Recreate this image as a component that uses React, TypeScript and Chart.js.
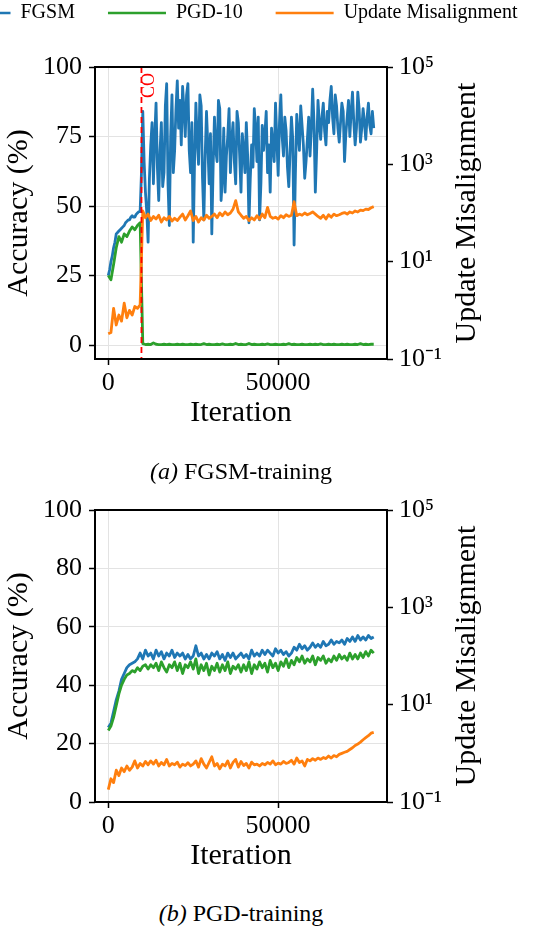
import React, { useEffect, useRef } from 'react';
import { Chart, registerables } from 'chart.js';

Chart.register(...registerables);

const SERIF = '"Liberation Serif", "Times New Roman", Times, serif';
const BLUE = '#1f77b4';
const ORANGE = '#ff7f0e';
const GREEN = '#2ca02c';
const GRID = '#e3e3e3';

// iterations between logged values (391 iterations per epoch)
const STEP_FINE = 391;
const STEP = 782;
const CO_ITERATION = 9775;
const X_MIN = -3910;
const X_MAX = 82110;

const seriesNames = ['FGSM', 'PGD-10', 'Update Misalignment'];
const seriesColors = [BLUE, GREEN, ORANGE];

// (a) FGSM-training — FGSM accuracy logged every epoch
const fgsmAccA = [
  25, 27, 30, 32, 35, 37, 40, 40.5, 41, 41.5,
  42, 42.5, 43, 44, 44.5, 45, 45, 46, 46.5, 46,
  46, 47, 47.5, 48, 48, 62, 84, 66, 55, 48,
  37, 60, 72, 80, 58, 75, 87, 64, 52, 70,
  80, 57, 62, 86, 94, 58, 43, 75, 90, 62,
  70, 85, 95, 78, 88, 72, 93, 85, 75, 90,
  94, 70, 62, 80, 37, 66, 87, 74, 65, 90,
  86, 60, 45, 68, 84, 72, 58, 76, 40, 64,
  82, 70, 66, 88, 85, 52, 60, 78, 55, 68,
  75, 85, 62, 74, 80, 66, 58, 84, 80, 68,
  55, 76, 70, 62, 80, 68, 44, 60, 72, 64,
  85, 78, 66, 82, 45, 58, 79, 70, 76, 84,
  62, 72, 55, 78, 72, 66, 87, 74, 61, 80,
  90, 75, 68, 82, 77, 64, 57, 70, 82, 74,
  36, 62, 83, 76, 70, 86, 79, 72, 60, 66,
  74, 82, 68, 78, 92, 80, 55, 70, 88, 80,
  74, 82, 87, 77, 72, 84, 80, 88, 93, 82,
  76, 90, 86, 78, 73, 80, 87, 84, 66, 76,
  82, 88, 75, 84, 91, 80, 72, 78, 91, 85,
  73, 78, 85, 80, 74, 82, 87, 79, 76, 84,
  78,
];
// logged every 2 epochs
const pgdAccA = [
  25, 23.5, 29, 35, 39, 37, 40, 39, 41, 42.5,
  41.5, 43, 44, 0.5, 0.2, 0.3, 0.2, 0.8, 0.3, 0.2,
  0.2, 0.3, 0.2, 0.3, 0.2, 0.2, 0.3, 0.2, 0.3, 0.2,
  0.2, 0.3, 0.2, 0.3, 0.2, 0.2, 0.5, 0.2, 0.3, 0.2,
  0.2, 0.3, 0.2, 0.4, 0.2, 0.2, 0.3, 0.2, 0.6, 0.2,
  0.3, 0.2, 0.2, 0.6, 0.2, 0.3, 0.2, 0.2, 0.3, 0.2,
  0.4, 0.2, 0.2, 0.3, 0.2, 0.2, 0.3, 0.2, 0.5, 0.2,
  0.3, 0.2, 0.2, 0.3, 0.2, 0.2, 0.3, 0.2, 0.3, 0.2,
  0.4, 0.2, 0.2, 0.3, 0.2, 0.3, 0.2, 0.2, 0.3, 0.2,
  0.3, 0.2, 0.2, 0.3, 0.2, 0.5, 0.2, 0.3, 0.2, 0.3,
  0.3,
];
const misalignA = [
  0.33, 0.35, 1.1, 0.5, 0.8, 0.6, 1.4, 0.7, 1.0, 0.8,
  1.2, 1.1, 1.3, 110, 80, 95, 70, 85, 75, 90,
  65, 80, 72, 85, 68, 78, 70, 82, 95, 72,
  88, 110, 70, 85, 65, 80, 72, 90, 78, 85,
  95, 80, 100, 88, 105, 92, 100, 120, 180, 105,
  90, 78, 85, 70, 80, 72, 88, 75, 95, 80,
  130, 85, 78, 82, 75, 88, 80, 92, 85, 90,
  170, 88, 95, 90, 100, 92, 98, 105, 95, 85,
  78, 90, 75, 92, 82, 95, 88, 92, 98, 102,
  95, 105, 100, 110, 105, 115, 112, 120, 118, 128,
  135,
];

// (b) PGD-training — logged every 2 epochs
const fgsmAccB = [
  25.5, 27, 31, 35, 38, 42, 44, 46, 47, 47.5,
  48, 49, 51, 49, 52, 50, 51, 49, 52, 50,
  51.5, 49, 51, 50, 52, 49.5, 51, 50, 51, 49,
  50.5, 49, 50, 53.5, 50, 51, 49, 50.5, 49, 51,
  50, 51.5, 49, 50.5, 48.5, 51, 49.5, 51, 49, 50,
  51, 49.5, 50.5, 49, 52, 50, 51, 50, 52, 50.5,
  52, 51, 50, 52.5, 51, 52, 50.5, 51.5, 50, 51,
  53, 52, 54, 52.5, 53.5, 52, 53, 54.5, 53, 54,
  53, 55, 53.5, 54, 55.5, 54, 55, 54.5, 55.5, 54,
  56, 55, 56.5, 55, 57, 55.5, 56.5, 55.5, 57, 56,
  56.5,
];
const pgdAccB = [
  24.5, 26, 29, 33, 37, 40, 42, 43.5, 44, 45,
  44.5, 46, 45, 46.5, 47, 45.5, 47, 46, 47.5, 45,
  48, 46, 44.5, 47, 46, 48, 45, 47.5, 44, 47,
  46, 48, 45.5, 49, 44, 47, 45, 47.5, 43.5, 46.5,
  45, 47.5, 44.5, 47, 45, 48, 44, 46.5, 45.5, 47,
  44.5, 47, 45, 48, 44, 47, 45.5, 48, 46, 47.5,
  44.5, 48.5, 46, 47.5, 45, 48, 46.5, 49, 46, 48.5,
  47, 49.5, 48, 50, 47.5, 49, 48, 50, 47, 49.5,
  48.5, 50, 47.5, 49, 48, 50, 48.5, 50.5, 49, 50,
  48.5, 51, 49, 50.5, 49, 51, 49.5, 51.5, 50, 52,
  51,
];
const misalignB = [
  0.18, 0.3, 0.25, 0.45, 0.35, 0.5, 0.42, 0.55, 0.45, 0.52,
  0.7, 0.5, 0.62, 0.55, 0.68, 0.58, 0.7, 0.6, 0.72, 0.55,
  0.65, 0.58, 0.75, 0.55, 0.62, 0.58, 0.66, 0.52, 0.6, 0.56,
  0.64, 0.55, 0.6, 0.7, 0.52, 0.78, 0.6, 0.5, 0.65, 0.85,
  0.55, 0.62, 0.48, 0.6, 0.55, 0.7, 0.5, 0.65, 0.75, 0.52,
  0.68, 0.56, 0.62, 0.5, 0.66, 0.58, 0.6, 0.55, 0.62, 0.58,
  0.65, 0.6, 0.7, 0.58, 0.63, 0.6, 0.68, 0.62, 0.65, 0.72,
  0.6, 0.8, 0.65, 0.7, 0.55, 0.75, 0.7, 0.78, 0.72, 0.8,
  0.75, 0.82, 0.78, 0.88, 0.8, 0.9, 0.85, 0.95, 1.0, 1.05,
  1.1, 1.2, 1.3, 1.45, 1.55, 1.7, 1.9, 2.1, 2.3, 2.6,
  2.7,
];

const xTickValues = [0, 50000];
const accTicksA = [0, 25, 50, 75, 100];
const accTicksB = [0, 20, 40, 60, 80, 100];
const misTickValues = [0.1, 10, 1000, 100000];
const misTickLabels = ['10⁻¹', '10¹', '10³', '10⁵'];

function toPoints(values: number[], step: number) {
  return values.map((v, i) => ({ x: i * step, y: v }));
}

const fixTicks = (values: number[]) => (scale: any) => {
  scale.ticks = values.map((v) => ({ value: v }));
};

const decorPlugin = {
  id: 'decor',
  afterDatasetsDraw(chart: any, _args: any, opts: any) {
    const { ctx, chartArea: a, scales } = chart;
    if (opts.coIteration != null) {
      const x = scales.x.getPixelForValue(opts.coIteration);
      ctx.save();
      ctx.strokeStyle = '#ff0000';
      ctx.lineWidth = 1.8;
      ctx.setLineDash([6, 4]);
      ctx.beginPath();
      ctx.moveTo(x, a.top);
      ctx.lineTo(x, a.bottom);
      ctx.stroke();
      ctx.setLineDash([]);
      ctx.fillStyle = '#ff0000';
      ctx.font = `18px ${SERIF}`;
      ctx.translate(x + 8, a.top + 6);
      ctx.rotate(-Math.PI / 2);
      ctx.textAlign = 'right';
      ctx.textBaseline = 'middle';
      ctx.fillText(opts.coLabel, 0, 0);
      ctx.restore();
    }
    ctx.save();
    ctx.strokeStyle = '#000';
    ctx.lineWidth = 2;
    ctx.strokeRect(a.left, a.top, a.right - a.left, a.bottom - a.top);
    ctx.restore();

    const s = scales.y1;
    ctx.save();
    ctx.fillStyle = '#000';
    ctx.font = `30px ${SERIF}`;
    ctx.translate(s.right - 72, (a.top + a.bottom) / 2);
    ctx.rotate(-Math.PI / 2);
    ctx.textAlign = 'center';
    ctx.textBaseline = 'middle';
    ctx.fillText(opts.rightTitle, 0, 0);
    ctx.restore();
  },
};

function makeConfig(
  fgsm: number[],
  fgsmStep: number,
  pgd: number[],
  mis: number[],
  accMin: number,
  accTicks: number[],
  coIteration: number | null
): any {
  const tickFont = { family: SERIF, size: 26 };
  const titleFont = { family: SERIF, size: 30 };
  const common = {
    borderWidth: 2.8,
    pointRadius: 0,
    tension: 0,
    fill: false,
    borderJoinStyle: 'round',
  };
  return {
    type: 'line',
    data: {
      datasets: [
        { ...common, label: seriesNames[2], data: toPoints(mis, STEP), yAxisID: 'y1', borderColor: ORANGE, backgroundColor: ORANGE, order: 1 },
        { ...common, label: seriesNames[1], data: toPoints(pgd, STEP), yAxisID: 'y', borderColor: GREEN, backgroundColor: GREEN, order: 2 },
        { ...common, label: seriesNames[0], data: toPoints(fgsm, fgsmStep), yAxisID: 'y', borderColor: BLUE, backgroundColor: BLUE, order: 3 },
      ],
    },
    options: {
      responsive: false,
      animation: false,
      events: [],
      layout: { padding: { top: 67, left: 0, right: 0, bottom: 0 } },
      plugins: {
        legend: { display: false },
        tooltip: { enabled: false },
        decor: { coIteration, coLabel: 'CO', rightTitle: 'Update Misalignment' },
      },
      scales: {
        x: {
          type: 'linear',
          min: X_MIN,
          max: X_MAX,
          afterBuildTicks: fixTicks(xTickValues),
          afterFit: (s: any) => { s.height = 81; },
          ticks: { font: tickFont, color: '#000', padding: 3, maxRotation: 0, autoSkip: false, callback: (v: any) => String(v) },
          grid: { color: GRID, lineWidth: 1, tickColor: '#000', tickWidth: 1.5, tickLength: 6, drawTicks: true },
          border: { display: false },
          title: { display: true, text: 'Iteration', font: titleFont, color: '#000', padding: { top: 0, bottom: 9 } },
        },
        y: {
          type: 'linear',
          position: 'left',
          min: accMin,
          max: 100,
          afterBuildTicks: fixTicks(accTicks),
          afterFit: (s: any) => { s.width = 95; },
          ticks: { font: tickFont, color: '#000', padding: 7, autoSkip: false, callback: (v: any) => String(v) },
          grid: { color: GRID, lineWidth: 1, tickColor: '#000', tickWidth: 1.5, tickLength: 6, drawTicks: true },
          border: { display: false },
          title: { display: true, text: 'Accuracy (%)', font: titleFont, color: '#000', padding: { top: 1, bottom: 0 } },
        },
        y1: {
          type: 'logarithmic',
          position: 'right',
          min: 0.1,
          max: 100000,
          afterBuildTicks: fixTicks(misTickValues),
          afterFit: (s: any) => { s.width = 152; },
          ticks: {
            font: tickFont,
            color: '#000',
            padding: 6,
            autoSkip: false,
            callback: (v: any) => {
              const k = misTickValues.indexOf(v);
              return k >= 0 ? misTickLabels[k] : '';
            },
          },
          grid: { color: GRID, drawOnChartArea: false, tickColor: '#000', tickWidth: 1.5, tickLength: 6, drawTicks: true },
          border: { display: false },
        },
      },
    },
    plugins: [decorPlugin],
  };
}

function legendConfig(): any {
  return {
    type: 'line',
    data: { datasets: [] },
    options: {
      responsive: false,
      animation: false,
      events: [],
      layout: { padding: 0 },
      scales: { x: { display: false }, y: { display: false } },
      plugins: {
        tooltip: { enabled: false },
        legend: {
          display: true,
          position: 'top',
          maxHeight: 200,
          labels: {
            usePointStyle: true,
            pointStyle: 'line',
            pointStyleWidth: 58,
            padding: 33,
            color: '#000',
            font: { family: SERIF, size: 20 },
            generateLabels: () =>
              seriesNames.map((name, i) => ({
                text: name,
                fillStyle: seriesColors[i],
                strokeStyle: seriesColors[i],
                lineWidth: 2.5,
                lineCap: 'butt',
                pointStyle: 'line',
                hidden: false,
                fontColor: '#000',
                datasetIndex: i,
              })),
          },
        },
      },
    },
  };
}

function ChartCanvas({ config, width, height, left, top }: { config: () => any; width: number; height: number; left: number; top: number }) {
  const ref = useRef<HTMLCanvasElement | null>(null);
  useEffect(() => {
    if (!ref.current) return;
    const chart = new Chart(ref.current, config());
    return () => chart.destroy();
  }, []);
  return (
    <canvas
      ref={ref}
      width={width}
      height={height}
      style={{ position: 'absolute', left, top, width, height, display: 'block' }}
    />
  );
}

export default function App() {
  const captionStyle: React.CSSProperties = {
    position: 'absolute',
    left: 0,
    width: 482,
    textAlign: 'center',
    fontFamily: SERIF,
    fontSize: 24,
    lineHeight: '24px',
    color: '#000',
    whiteSpace: 'nowrap',
  };
  return (
    <div
      style={{
        position: 'absolute',
        left: 0,
        top: 0,
        width: 539,
        height: 928,
        overflow: 'hidden',
        background: '#fff',
      }}
    >
      <ChartCanvas
        config={() => makeConfig(fgsmAccA, STEP_FINE, pgdAccA, misalignA, -5, accTicksA, CO_ITERATION)}
        width={539}
        height={440}
        left={0}
        top={0}
      />
      <ChartCanvas
        config={() => makeConfig(fgsmAccB, STEP, pgdAccB, misalignB, 0, accTicksB, null)}
        width={539}
        height={440}
        left={0}
        top={443}
      />
      <ChartCanvas config={legendConfig} width={660} height={120} left={-95} top={-30} />
      <div style={{ ...captionStyle, top: 459 }}>
        <i>(a)</i> FGSM-training
      </div>
      <div style={{ ...captionStyle, top: 901 }}>
        <i>(b)</i> PGD-training
      </div>
    </div>
  );
}
